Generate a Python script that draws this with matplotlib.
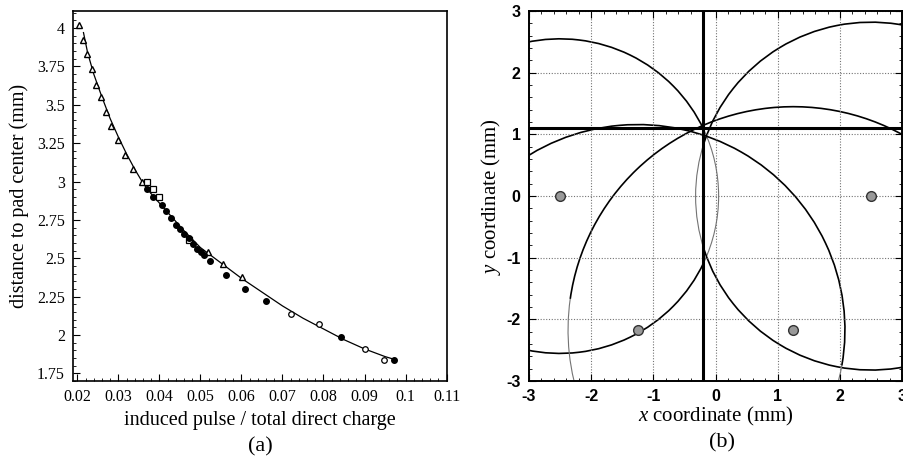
import matplotlib
matplotlib.use("Agg")
import matplotlib.pyplot as plt
from matplotlib.patches import Arc
from matplotlib.ticker import MultipleLocator

plt.rcParams["mathtext.fontset"] = "custom"
plt.rcParams["mathtext.rm"] = "Liberation Serif"
plt.rcParams["mathtext.it"] = "Liberation Serif:italic"
plt.rcParams["axes.unicode_minus"] = False

# ---- panel (a): induced pulse ratio vs distance ----
tri_x = [0.0205, 0.0213, 0.0224, 0.0235, 0.0245, 0.0257, 0.0270, 0.0282, 0.0299,
         0.0315, 0.0336, 0.0358, 0.0518, 0.0554, 0.0601]
tri_y = [4.02, 3.92, 3.83, 3.73, 3.63, 3.55, 3.45, 3.36, 3.27,
         3.17, 3.08, 3.00, 2.54, 2.46, 2.38]
sq_x = [0.0370, 0.0384, 0.0398, 0.0471]
sq_y = [3.00, 2.95, 2.90, 2.62]
dot_x = [0.0370, 0.0384, 0.0406, 0.0416, 0.0428, 0.0440, 0.0450, 0.0461, 0.0471,
         0.0481, 0.0491, 0.0501, 0.0509, 0.0523, 0.0562, 0.0609, 0.0660, 0.0843, 0.0973]
dot_y = [2.95, 2.90, 2.85, 2.81, 2.76, 2.72, 2.69, 2.66, 2.63,
         2.59, 2.56, 2.54, 2.52, 2.48, 2.39, 2.30, 2.22, 1.99, 1.84]
circ_x = [0.0721, 0.0788, 0.0900, 0.0948]
circ_y = [2.14, 2.07, 1.91, 1.84]
fit_x = [0.0215, 0.0225, 0.024, 0.026, 0.028, 0.030, 0.032, 0.034, 0.036, 0.038, 0.040,
         0.043, 0.046, 0.050, 0.055, 0.060, 0.065, 0.070, 0.075, 0.080, 0.085, 0.090,
         0.095, 0.0975]
fit_y = [3.97, 3.84, 3.70, 3.55, 3.41, 3.29, 3.18, 3.08, 2.99, 2.92, 2.86,
         2.77, 2.68, 2.57, 2.47, 2.37, 2.28, 2.19, 2.11, 2.04, 1.97, 1.91,
         1.86, 1.84]
a_xticks = [0.02, 0.03, 0.04, 0.05, 0.06, 0.07, 0.08, 0.09, 0.1, 0.11]
a_xlabels = ["0.02", "0.03", "0.04", "0.05", "0.06", "0.07", "0.08", "0.09", "0.1", "0.11"]
a_yticks = [1.75, 2, 2.25, 2.5, 2.75, 3, 3.25, 3.5, 3.75, 4]
a_ylabels = ["1.75", "2", "2.25", "2.5", "2.75", "3", "3.25", "3.5", "3.75", "4"]

# ---- panel (b): pad centres and distance circles ----
pad_x = [-2.5, 2.5, -1.25, 1.25]
pad_y = [0.0, 0.0, -2.17, -2.17]
pad_r = [2.55, 2.82, 3.33, 3.62]
dark_from = [25, -162, -10, 20]
dark_to = [335, 162, 130, 172]
light_from = [-25, 162, -25, 172]
light_to = [25, 198, -10, 200]
cross_x = -0.2
cross_y = 1.1
b_ticks = [-3, -2, -1, 0, 1, 2, 3]
b_labels = ["-3", "-2", "-1", "0", "1", "2", "3"]

serif = ["Liberation Serif", "DejaVu Serif"]
sans = ["Liberation Sans", "DejaVu Sans"]

fig = plt.figure(figsize=(9.04, 4.62), dpi=100)
ax1 = fig.add_axes([0.081, 0.175, 0.413, 0.801])
ax2 = fig.add_axes([0.585, 0.175, 0.413, 0.801])

# (a)
ax1.plot(fit_x, fit_y, color="black", lw=0.9)
ax1.plot(tri_x, tri_y, "^", ms=4, mfc="white", mec="black", mew=1.0)
ax1.plot(sq_x, sq_y, "s", ms=3.8, mfc="white", mec="black", mew=0.9)
ax1.plot(dot_x, dot_y, "o", ms=4, color="black")
ax1.plot(circ_x, circ_y, "o", ms=4, mfc="white", mec="black", mew=0.9)
ax1.set_xlim(0.019, 0.11)
ax1.set_ylim(1.70, 4.11)
ax1.xaxis.set_minor_locator(MultipleLocator(0.002))
ax1.yaxis.set_minor_locator(MultipleLocator(0.05))
ax1.set_xticks(a_xticks)
ax1.set_xticklabels(a_xlabels, family=serif, fontsize=11.5)
ax1.set_yticks(a_yticks)
ax1.set_yticklabels(a_ylabels, family=serif, fontsize=11.5)
ax1.tick_params(which="both", direction="in", top=False, right=False)
ax1.tick_params(which="major", length=5, pad=6)
ax1.tick_params(which="minor", length=2.5)
for s in ax1.spines.values():
    s.set_linewidth(1.2)
ax1.set_xlabel("induced pulse / total direct charge", family=serif, fontsize=14.5, labelpad=4)
ax1.set_ylabel("distance to pad center (mm)", family=serif, fontsize=14.5, labelpad=6)

# (b)
ax2.grid(True, which="major", ls=(0, (1, 1.5)), color="0.45", lw=0.8)
for i in range(len(pad_x)):
    d = 2 * pad_r[i]
    ax2.add_patch(Arc((pad_x[i], pad_y[i]), d, d, theta1=dark_from[i], theta2=dark_to[i],
                      color="black", lw=1.2))
    ax2.add_patch(Arc((pad_x[i], pad_y[i]), d, d, theta1=light_from[i], theta2=light_to[i],
                      color="0.45", lw=0.8))
ax2.axvline(cross_x, color="black", lw=2.2)
ax2.axhline(cross_y, color="black", lw=2.2)
ax2.plot(pad_x, pad_y, "o", ms=7, mfc="0.6", mec="0.2", mew=1.0)
ax2.set_xlim(-3, 3)
ax2.set_ylim(-3, 3)
ax2.set_xticks(b_ticks)
ax2.set_xticklabels(b_labels, family=sans, fontweight="bold", fontsize=11.5)
ax2.set_yticks(b_ticks)
ax2.set_yticklabels(b_labels, family=sans, fontweight="bold", fontsize=11.5)
ax2.xaxis.set_minor_locator(MultipleLocator(0.2))
ax2.yaxis.set_minor_locator(MultipleLocator(0.2))
ax2.tick_params(which="both", direction="in", top=True, right=True)
ax2.tick_params(which="major", length=5, pad=6)
ax2.tick_params(which="minor", length=2.5)
for s in ax2.spines.values():
    s.set_linewidth(1.4)
ax2.set_xlabel(r"$\it{x}$ coordinate (mm)", family=serif, fontsize=15, labelpad=0)
ax2.set_ylabel(r"$\it{y}$ coordinate (mm)", family=serif, fontsize=15, labelpad=2)

fig.text(0.288, 0.032, "(a)", family=serif, fontsize=16, ha="center", va="center")
fig.text(0.799, 0.041, "(b)", family=serif, fontsize=16, ha="center", va="center")

fig.savefig("out.png", dpi=100)
